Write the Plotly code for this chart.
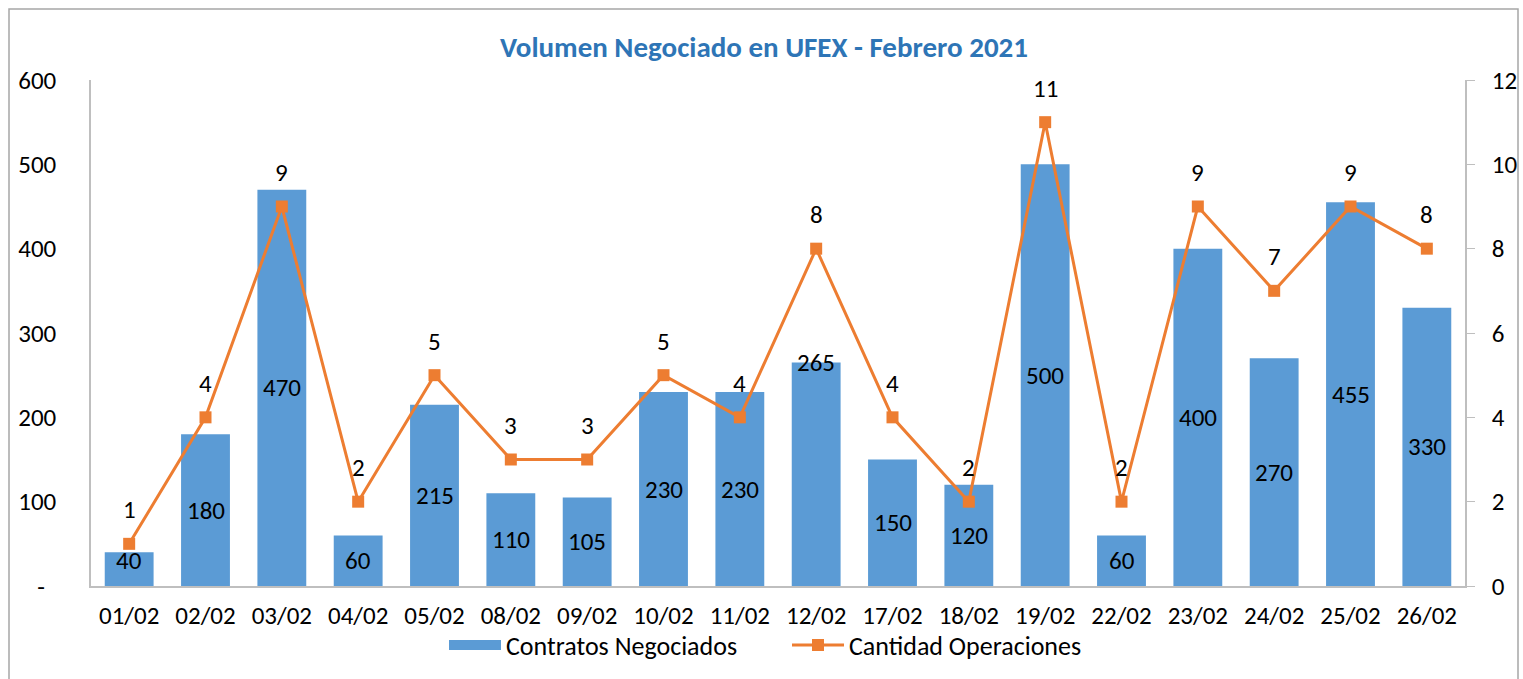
import plotly.graph_objects as go

categories = ["01/02", "02/02", "03/02", "04/02", "05/02", "08/02", "09/02", "10/02", "11/02",
              "12/02", "17/02", "18/02", "19/02", "22/02", "23/02", "24/02", "25/02", "26/02"]
contratos = [40, 180, 470, 60, 215, 110, 105, 230, 230, 265, 150, 120, 500, 60, 400, 270, 455, 330]
operaciones = [1, 4, 9, 2, 5, 3, 3, 5, 4, 8, 4, 2, 11, 2, 9, 7, 9, 8]
left_ticks = [0, 100, 200, 300, 400, 500, 600]
left_ticktext = ["-\u00a0\u00a0", "100", "200", "300", "400", "500", "600"]
right_ticks = [0, 2, 4, 6, 8, 10, 12]

FONT = "Carlito, Calibri, Lato, sans-serif"
BLUE = "#5B9BD5"
ORANGE = "#ED7D31"
AXIS = "#BFBFBF"
FS = 25

W, H = 1523, 679
L, R, T, B = 91, W - 1465, 80, H - 586
PW, PH = W - L - R, H - T - B


def px_x(sx):
    return (sx - L) / PW


def px_y(sy):
    return (T + PH - sy) / PH


fig = go.Figure()
fig.add_trace(go.Bar(
    x=categories, y=contratos, name="Contratos Negociados",
    marker=dict(color=BLUE, line=dict(width=0)), width=0.64,
    yaxis="y", showlegend=False,
))
# legend entry for the bars (wide box like the reference)
fig.add_trace(go.Scatter(
    x=[None], y=[None], name="Contratos Negociados", mode="lines",
    line=dict(color=BLUE, width=18), legend="legend", showlegend=True,
))
fig.add_trace(go.Scatter(
    x=categories, y=operaciones, name="Cantidad Operaciones",
    mode="lines+markers",
    line=dict(color=ORANGE, width=3),
    marker=dict(symbol="square", size=12, color=ORANGE),
    yaxis="y2", legend="legend2",
))

annotations = []
for c, v in zip(categories, contratos):
    if c == "12/02":
        y, shift = v, 0
    elif c == "01/02":
        y, shift = v / 2, 9
    else:
        y, shift = v / 2, 0
    annotations.append(dict(x=c, y=y, xref="x", yref="y", text=str(v), showarrow=False,
                            yshift=shift, font=dict(family=FONT, size=FS, color="#000000")))
for c, v in zip(categories, operaciones):
    annotations.append(dict(x=c, y=v, xref="x", yref="y2", text=str(v), showarrow=False,
                            yshift=34, font=dict(family=FONT, size=FS, color="#000000")))

leg_common = dict(orientation="h", yanchor="middle", xanchor="left",
                  font=dict(family=FONT, size=26), itemwidth=52,
                  bgcolor="rgba(0,0,0,0)", borderwidth=0)

fig.update_layout(
    width=W, height=H,
    margin=dict(l=L, r=R, t=T, b=B, autoexpand=False),
    paper_bgcolor="white", plot_bgcolor="white",
    font=dict(family=FONT, size=FS, color="#000000"),
    title=dict(text="<b>Volumen Negociado en UFEX - Febrero 2021</b>",
               x=764 / W, xanchor="center", xref="container",
               y=1 - 47 / H, yanchor="middle", yref="container",
               font=dict(family=FONT, size=29, color="#2E75B6")),
    showlegend=True,
    legend=dict(x=px_x(444), y=px_y(645), **leg_common),
    legend2=dict(x=px_x(787), y=px_y(645), **leg_common),
    xaxis=dict(type="category", range=[-0.5, len(categories) - 0.5],
               showline=True, linecolor=AXIS, linewidth=1.5,
               ticks="", showgrid=False, tickfont=dict(family=FONT, size=FS),
               ticklabelstandoff=6),
    yaxis=dict(range=[0, 600], tickvals=left_ticks, ticktext=left_ticktext,
               showline=True, linecolor=AXIS, linewidth=1.5, ticks="",
               showgrid=False, zeroline=False, tickfont=dict(family=FONT, size=FS),
               ticklabelstandoff=28),
    yaxis2=dict(range=[0, 12], tickvals=right_ticks, overlaying="y", side="right",
                showline=True, linecolor=AXIS, linewidth=1.5, ticks="outside",
                ticklen=8, tickcolor=AXIS, showgrid=False, zeroline=False,
                tickfont=dict(family=FONT, size=FS), ticklabelstandoff=12),
    annotations=annotations,
    shapes=[dict(type="rect", xref="paper", yref="paper",
                 x0=px_x(9), x1=px_x(1518),
                 y0=px_y(720), y1=px_y(9),
                 line=dict(color="#A6A6A6", width=1.5), fillcolor="rgba(0,0,0,0)",
                 layer="below")],
)

fig.write_html(
    "out.html",
    config={"displayModeBar": False},
    post_script="document.body.style.margin='0';document.body.style.overflow='hidden';",
)
